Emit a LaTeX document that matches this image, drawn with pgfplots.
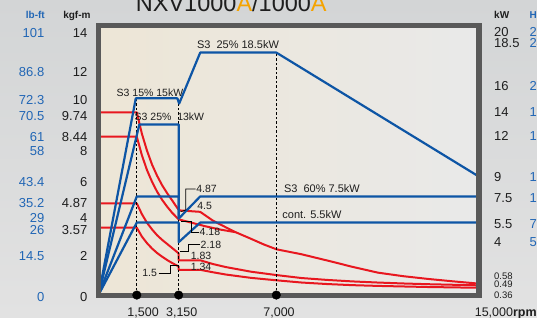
\documentclass[border=0pt]{standalone}
\usepackage{pgfplots}
\pgfplotsset{compat=1.18}
\usepackage{fontspec}
\setmainfont{Liberation Sans}
\definecolor{tickblue}{HTML}{2166B5}
\definecolor{lineblue}{HTML}{0D55A5}
\definecolor{linered}{HTML}{E8171F}
\definecolor{framegray}{HTML}{595959}
\definecolor{ttlorange}{HTML}{F5A300}
\definecolor{bgtop}{HTML}{D3D5D6}
\definecolor{bgbot}{HTML}{E2E2E2}
\definecolor{beige}{HTML}{EDE6D6}
\definecolor{midw}{HTML}{F7F6F3}
\definecolor{rgray}{HTML}{E9E9E9}
\definecolor{txt}{HTML}{1E1E1E}
\newcommand{\fs}[1]{\fontsize{#1}{#1}\selectfont}
\newcommand{\LT}[2]{\makebox[43pt][r]{\textcolor{tickblue}{#1}}\makebox[43pt][r]{#2}}
\newcommand{\RT}[2]{\makebox[35.3pt][l]{#1}\textcolor{tickblue}{#2}}
\begin{document}
\begin{tikzpicture}[x=1pt,y=1pt]
\useasboundingbox (0,0) rectangle (537,317);
\clip (0,0) rectangle (537,317);
\shade[top color=bgtop, bottom color=bgbot] (0,0) rectangle (537,317);
\shade[left color=beige, middle color=midw, right color=rgray] (98.6,21.6) rectangle (479,291.5);
\node[anchor=base west, inner sep=0pt, font=\fs{23.5}, text=txt] at (135.7,305.3) {NXV1000\textcolor{ttlorange}{A}/1000\textcolor{ttlorange}{A}};
% torque axis
\begin{axis}[name=T, at={(98.75pt,18.76pt)}, anchor=south west, scale only axis,
  width=380.5pt, height=272.74pt, xmin=0, xmax=15000, ymin=-0.2, ymax=14.385,
  axis line style={draw=none}, major tick length=0pt,
  xtick={1500,3150,7000},
  xticklabels={{\hspace{12.6pt}1,500},{\hspace{6.2pt}3,150},{\hspace{5.4pt}7,000}},
  extra x ticks={15000},
  extra x tick labels={{15{,}000\textbf{rpm}}},
  extra x tick style={xticklabel style={anchor=north west, xshift=-4.65pt}},
  xticklabel style={inner sep=0pt, yshift=-9pt, font=\fs{12.5}, text=txt},
  ytick={-0.118,2.06,3.45,4.07,4.88,6.0,7.67,8.44,9.55,10.4,11.91,13.97},
  yticklabels={\LT{0}{0},\LT{14.5}{2},\LT{26}{3.57},\LT{29}{4},\LT{35.2}{4.87},\LT{43.4}{6},\LT{58}{8},\LT{61}{8.44},\LT{70.5}{9.74},\LT{72.3}{10},\LT{86.8}{12},\LT{101}{14}},
  yticklabel style={anchor=east, inner sep=0pt, xshift=-11.25pt, font=\fs{13}, text=txt}]
\addplot[linered, line width=2pt, line join=round] coordinates {(0,9.74)(1500,9.74)(1700,8.6)(1900,7.7)(2100,6.95)(2300,6.35)(2500,5.84)(2700,5.41)(2900,5.02)(3100,4.62)(3170,4.5)(4000,4.42)(4500,3.95)(5000,3.6)(5400,3.33)(6000,2.98)(6500,2.68)(7000,2.42)(8000,2.15)(9000,1.82)(10000,1.48)(11000,1.17)(12000,0.98)(13000,0.83)(14000,0.7)(15000,0.58)};
\addplot[linered, line width=2pt, line join=round] coordinates {(0,8.44)(1500,8.44)(1700,7.45)(1900,6.66)(2100,6.03)(2300,5.5)(2500,5.06)(2700,4.69)(2900,4.36)(3150,4.02)(3600,3.86)(4200,3.65)(4800,3.47)(5400,3.33)};
\addplot[linered, line width=2pt, line join=round] coordinates {(0,4.87)(1500,4.87)(1700,4.3)(1900,3.84)(2100,3.48)(2300,3.17)(2500,2.92)(2700,2.7)(2900,2.48)(3150,2.2)(3150,1.83)(4000,1.83)(4500,1.63)(5000,1.47)(6000,1.22)(7000,1.04)(8000,0.88)(9000,0.78)(10000,0.7)(11000,0.64)(12000,0.59)(13000,0.55)(14000,0.52)(15000,0.49)};
\addplot[linered, line width=2pt, line join=round] coordinates {(0,3.57)(1500,3.57)(1700,3.1)(1900,2.75)(2100,2.46)(2300,2.22)(2500,2.02)(2700,1.84)(2900,1.68)(3150,1.5)(3150,1.32)(4000,1.32)(4500,1.19)(5000,1.07)(6000,0.89)(7000,0.76)(8000,0.64)(9000,0.56)(10000,0.5)(11000,0.46)(12000,0.43)(13000,0.4)(14000,0.38)(15000,0.36)};
\end{axis}
% power axis
\begin{axis}[name=P, at={(98.75pt,18.76pt)}, anchor=south west, scale only axis,
  width=380.5pt, height=272.74pt, xmin=0, xmax=15000, ymin=-0.286, ymax=20.57,
  axis line style={draw=none}, major tick length=0pt, xtick=\empty,
  yticklabel pos=right,
  ytick={-0.04,0.75,1.41,4.04,5.39,7.4,8.96,12.09,13.95,15.94,19.25,20.05},
  yticklabels={{\fs{9.5}0.36},{\fs{9.5}0.49},{\fs{9.5}0.58},\RT{4}{5.4},\RT{5.5}{7.4},\RT{7.5}{10.1},\RT{9}{12.1},\RT{12}{16.1},\RT{14}{18.8},\RT{16}{21.5},\RT{18.5}{24.8},\RT{20}{26.8}},
  yticklabel style={anchor=west, inner sep=0pt, xshift=14.75pt, font=\fs{13}, text=txt}]
\addplot[black, line width=0.8pt, dash pattern=on 2.5pt off 2pt] coordinates {(1500,0)(1500,15)};
\addplot[black, line width=0.8pt, dash pattern=on 2.5pt off 2pt] coordinates {(3150,0)(3150,14.6)};
\addplot[black, line width=0.8pt, dash pattern=on 2.5pt off 2pt] coordinates {(7000,0)(7000,18.5)};
\addplot[lineblue, line width=2.2pt, line join=round] coordinates {(0,0)(1460,15)(3100,15)(3170,14.6)(4000,18.5)(7000,18.5)(15000,9)};
\addplot[lineblue, line width=2.2pt, line join=round] coordinates {(0,0)(1600,13)(3150,13)(3150,5.8)};
\addplot[lineblue, line width=2.2pt, line join=round] coordinates {(0,0)(1500,7.5)(3150,7.5)(3150,5.8)(4000,7.5)(15000,7.5)};
\addplot[lineblue, line width=2.2pt, line join=round] coordinates {(0,0)(1500,5.5)(3150,5.5)(3150,4.0)(4000,5.5)(15000,5.5)};
\end{axis}
\draw[line width=5.5pt, framegray] (98.6,21.6) rectangle (479,291.5);
% dots on the rpm axis
\begin{axis}[at={(98.75pt,18.76pt)}, anchor=south west, scale only axis,
  width=380.5pt, height=272.74pt, xmin=0, xmax=15000, ymin=-0.2, ymax=14.385,
  hide axis, clip=false]
\addplot[only marks, mark=*, mark size=4.3pt, black] coordinates {(1500,-0.03)(3150,-0.03)(7000,-0.03)};
\end{axis}
% headers
\node[anchor=base east, inner sep=0pt, font=\bfseries\fs{10}, text=tickblue] at (45,298.7) {lb-ft};
\node[anchor=base east, inner sep=0pt, font=\bfseries\fs{10}, text=txt] at (90.7,298.7) {kgf-m};
\node[anchor=base west, inner sep=0pt, font=\bfseries\fs{10}, text=txt] at (494,298.7) {kW};
\node[anchor=base west, inner sep=0pt, font=\bfseries\fs{10}, text=tickblue] at (529.3,298.7) {HP};
% curve labels
\begin{scope}[every node/.style={anchor=base west, inner sep=0pt, text=txt}]
\node[font=\fs{10.5}] at (116.5,220.3) {S3 15\% 15kW};
\node[font=\fs{10.5}] at (134.5,197) {S3 25\%\ \ 13kW};
\node[font=\fs{11}] at (196.8,268.7) {S3\ \ 25\% 18.5kW};
\node[font=\fs{11}] at (283.8,124.2) {S3\ \ 60\% 7.5kW};
\node[font=\fs{11}] at (282.2,98.7) {cont. 5.5kW};
\node[font=\fs{10.5}] at (196.2,124.3) {4.87};
\node[font=\fs{10.5}] at (197.2,107.3) {4.5};
\node[font=\fs{10.5}] at (199.5,81.6) {4.18};
\node[font=\fs{10.5}] at (200.5,68.6) {2.18};
\node[font=\fs{10.5}] at (190.6,58) {1.83};
\node[font=\fs{10.5}] at (190.6,47) {1.34};
\node[font=\fs{10.5}] at (142.2,40.6) {1.5};
\end{scope}
\begin{scope}[black, line width=0.7pt]
\draw (195.5,128) -- (185.7,128) -- (185.7,107) -- (180.5,105.3);
\draw (198.5,84.7) -- (191.7,84.7) -- (191.7,96) -- (181,96);
\draw (200,72.7) -- (188.3,72.7) -- (188.3,65.3) -- (180,65.3);
\draw (158.5,43.7) -- (170,43.7) -- (170,52) -- (177.7,52);
\end{scope}
\end{tikzpicture}
\end{document}
